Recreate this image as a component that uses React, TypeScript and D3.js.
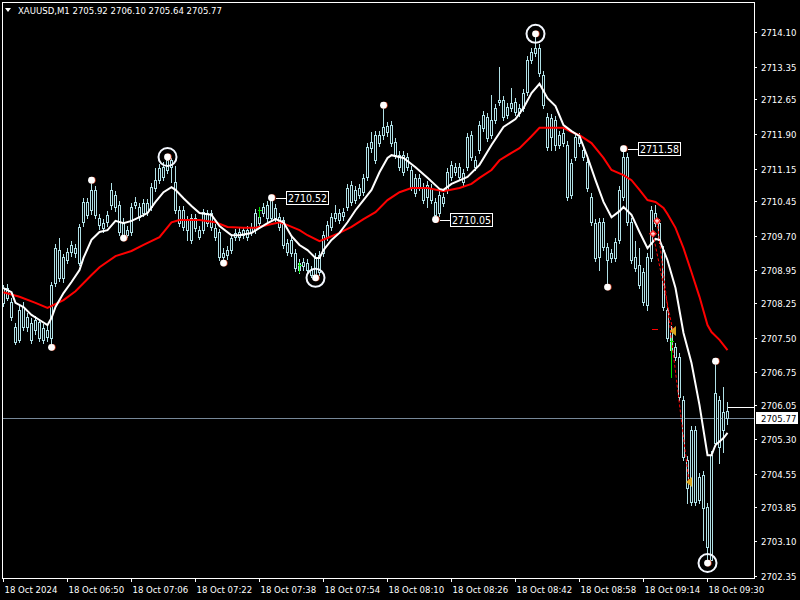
import React from "react";
import * as d3 from "d3";

const symbolTitle = "XAUUSD,M1  2705.92 2706.10 2705.64 2705.77";

const opens = [
  2708.57, 2708.57, 2708.27, 2707.73, 2707.45, 2708.16, 2707.94, 2707.81, 2707.66, 2707.83,
  2707.71, 2707.66, 2707.49, 2708.68, 2709.39, 2708.79, 2709.17, 2709.35, 2709.43, 2709.11,
  2709.99, 2710.43, 2710.25, 2710.69, 2710.08, 2709.97, 2709.99, 2710.36, 2710.58, 2710.36,
  2709.99, 2709.71, 2709.78, 2710.36, 2710.32, 2710.19, 2710.40, 2710.32, 2710.73, 2710.90,
  2711.18, 2711.12, 2711.33, 2710.86, 2710.25, 2709.89, 2710.04, 2709.61, 2710.08, 2709.82,
  2709.82, 2710.19, 2710.19, 2709.87, 2709.78, 2709.33, 2709.28, 2709.39, 2709.67, 2709.78,
  2709.71, 2709.82, 2709.78, 2709.82, 2710.10, 2710.19, 2710.36, 2710.08, 2710.30, 2710.10,
  2710.04, 2709.54, 2709.33, 2709.33, 2709.11, 2709.04, 2709.11, 2708.96, 2708.81, 2709.28,
  2709.33, 2709.67, 2709.89, 2710.08, 2710.19, 2710.12, 2710.32, 2710.79, 2710.47, 2710.58,
  2710.64, 2710.97, 2711.72, 2711.33, 2711.87, 2711.87, 2712.07, 2712.09, 2711.72, 2711.44,
  2711.07, 2711.40, 2711.12, 2710.95, 2710.75, 2710.75, 2710.53, 2710.73, 2710.43, 2710.19,
  2710.40, 2710.69, 2710.97, 2711.18, 2711.18, 2710.86, 2711.18, 2711.87, 2711.33, 2711.55,
  2712.03, 2712.26, 2711.87, 2712.20, 2712.59, 2712.63, 2712.31, 2712.46, 2712.59, 2712.46,
  2712.46, 2712.80, 2713.49, 2713.65, 2713.75, 2713.17, 2712.26, 2711.83, 2712.20, 2711.66,
  2711.70, 2711.66, 2710.58, 2711.40, 2711.83, 2711.55, 2711.29, 2710.53, 2709.97, 2709.24,
  2709.99, 2709.45, 2709.22, 2709.22, 2709.61, 2710.53, 2711.40, 2709.99, 2709.24, 2709.07,
  2708.91, 2708.20, 2709.22, 2710.19, 2709.97, 2709.39, 2708.09, 2707.66, 2707.29, 2707.08,
  2706.15, 2704.85, 2703.95, 2705.50, 2703.99, 2704.53, 2703.84, 2702.69, 2705.22, 2706.15,
  2705.50, 2705.92,
];

const highs = [
  2708.63, 2708.66, 2708.35, 2707.81, 2708.18, 2708.27, 2708.03, 2707.92, 2707.96, 2707.90,
  2707.79, 2707.75, 2708.70, 2709.52, 2709.65, 2709.30, 2709.43, 2709.58, 2709.52, 2709.95,
  2710.51, 2710.51, 2710.90, 2710.77, 2710.17, 2710.06, 2710.23, 2710.84, 2710.66, 2710.45,
  2710.08, 2709.91, 2710.40, 2710.53, 2710.40, 2710.49, 2710.49, 2710.84, 2711.16, 2711.25,
  2711.29, 2711.40, 2711.38, 2711.20, 2710.34, 2710.34, 2710.12, 2710.17, 2710.17, 2709.91,
  2710.28, 2710.25, 2710.25, 2709.95, 2709.84, 2709.43, 2709.48, 2709.74, 2709.84, 2709.87,
  2709.89, 2709.91, 2709.97, 2710.28, 2710.19, 2710.40, 2710.45, 2710.52, 2710.38, 2710.19,
  2710.10, 2709.63, 2709.69, 2709.41, 2709.20, 2709.22, 2709.20, 2709.04, 2709.33, 2709.37,
  2709.80, 2710.02, 2710.19, 2710.36, 2710.28, 2710.30, 2710.82, 2710.88, 2710.77, 2710.82,
  2711.03, 2711.70, 2711.94, 2711.96, 2711.96, 2712.52, 2712.16, 2712.18, 2711.81, 2711.53,
  2711.53, 2711.49, 2711.20, 2711.03, 2711.03, 2710.84, 2710.88, 2710.82, 2710.51, 2710.66,
  2710.62, 2711.16, 2711.31, 2711.27, 2711.27, 2711.14, 2711.92, 2711.96, 2711.42, 2712.18,
  2712.39, 2712.35, 2712.74, 2712.54, 2713.34, 2712.72, 2712.57, 2712.89, 2712.67, 2712.54,
  2712.87, 2713.58, 2713.75, 2714.06, 2713.84, 2713.26, 2712.35, 2712.33, 2712.28, 2711.96,
  2712.00, 2711.74, 2711.36, 2711.92, 2711.92, 2711.64, 2711.38, 2710.62, 2710.06, 2710.08,
  2710.08, 2709.54, 2709.41, 2709.65, 2710.77, 2711.58, 2711.49, 2710.08, 2709.58, 2709.43,
  2709.00, 2709.33, 2710.34, 2710.36, 2710.06, 2709.48, 2708.18, 2707.75, 2707.38, 2707.17,
  2706.24, 2704.94, 2705.59, 2705.59, 2704.57, 2704.62, 2703.93, 2705.05, 2706.99, 2706.24,
  2706.43, 2706.10,
];

const lows = [
  2708.18, 2708.31, 2707.88, 2707.36, 2707.40, 2707.66, 2707.64, 2707.38, 2707.58, 2707.43,
  2707.38, 2707.43, 2707.29, 2708.61, 2708.72, 2708.70, 2709.11, 2709.26, 2709.24, 2709.07,
  2709.91, 2710.08, 2710.17, 2710.08, 2709.84, 2709.78, 2709.91, 2710.28, 2710.23, 2709.71,
  2709.65, 2709.67, 2709.71, 2710.30, 2710.04, 2710.12, 2710.15, 2710.25, 2710.66, 2710.84,
  2710.90, 2711.05, 2710.86, 2710.19, 2709.91, 2709.82, 2709.61, 2709.54, 2709.80, 2709.63,
  2709.76, 2709.91, 2709.82, 2709.61, 2709.17, 2709.11, 2709.20, 2709.33, 2709.61, 2709.61,
  2709.65, 2709.61, 2709.71, 2709.76, 2709.91, 2710.12, 2710.02, 2710.02, 2710.02, 2709.82,
  2709.43, 2709.28, 2709.26, 2708.94, 2708.89, 2708.96, 2708.89, 2708.81, 2708.79, 2708.85,
  2709.26, 2709.61, 2709.82, 2710.02, 2709.97, 2710.04, 2710.25, 2710.36, 2710.40, 2710.51,
  2710.58, 2710.90, 2711.51, 2711.27, 2711.64, 2711.79, 2711.85, 2711.64, 2711.38, 2711.12,
  2711.01, 2711.12, 2710.69, 2710.56, 2710.69, 2710.40, 2710.32, 2710.40, 2710.05, 2710.12,
  2710.34, 2710.62, 2710.90, 2711.01, 2710.90, 2710.79, 2711.12, 2711.33, 2711.12, 2711.49,
  2711.96, 2711.74, 2711.81, 2712.13, 2712.52, 2712.20, 2712.24, 2712.39, 2712.31, 2712.28,
  2712.39, 2712.74, 2713.43, 2713.58, 2713.15, 2712.46, 2711.55, 2711.55, 2711.55, 2711.59,
  2711.64, 2710.47, 2710.51, 2711.33, 2711.64, 2711.33, 2710.66, 2709.93, 2709.15, 2708.96,
  2709.39, 2708.59, 2709.13, 2709.15, 2709.54, 2710.47, 2709.93, 2709.11, 2708.94, 2708.57,
  2708.20, 2708.09, 2709.15, 2709.91, 2709.54, 2708.09, 2707.43, 2707.17, 2707.01, 2706.15,
  2704.85, 2703.93, 2703.88, 2703.88, 2703.93, 2703.13, 2702.63, 2702.69, 2705.16, 2704.79,
  2705.03, 2705.64,
];

const closes = [
  2708.25, 2708.35, 2707.94, 2707.40, 2708.09, 2707.73, 2707.73, 2707.45, 2707.88, 2707.49,
  2707.45, 2707.51, 2708.63, 2709.43, 2708.79, 2709.24, 2709.35, 2709.50, 2709.33, 2709.89,
  2710.43, 2710.15, 2710.69, 2710.15, 2709.93, 2709.87, 2710.15, 2710.69, 2710.32, 2709.78,
  2709.71, 2709.82, 2710.32, 2710.43, 2710.10, 2710.40, 2710.21, 2710.75, 2710.90, 2711.16,
  2710.97, 2711.33, 2711.18, 2710.25, 2709.97, 2710.25, 2709.82, 2710.08, 2709.87, 2709.67,
  2710.21, 2709.97, 2709.89, 2709.67, 2709.24, 2709.24, 2709.39, 2709.65, 2709.76, 2709.67,
  2709.82, 2709.67, 2709.89, 2710.19, 2709.97, 2710.32, 2710.08, 2710.47, 2710.08, 2709.89,
  2709.50, 2709.35, 2709.61, 2709.00, 2708.96, 2709.13, 2708.96, 2708.85, 2709.24, 2708.91,
  2709.71, 2709.93, 2710.10, 2710.19, 2710.04, 2710.21, 2710.73, 2710.43, 2710.69, 2710.73,
  2710.95, 2711.61, 2711.59, 2711.87, 2711.70, 2712.05, 2711.94, 2711.70, 2711.44, 2711.18,
  2711.44, 2711.18, 2710.75, 2710.62, 2710.95, 2710.47, 2710.79, 2710.47, 2710.15, 2710.58,
  2710.53, 2711.07, 2711.23, 2711.07, 2710.97, 2711.05, 2711.83, 2711.40, 2711.18, 2712.09,
  2712.31, 2711.81, 2712.20, 2712.46, 2712.63, 2712.26, 2712.48, 2712.57, 2712.37, 2712.35,
  2712.78, 2713.49, 2713.67, 2713.75, 2713.21, 2712.52, 2711.61, 2712.24, 2711.66, 2711.87,
  2711.92, 2710.53, 2711.27, 2711.83, 2711.70, 2711.40, 2710.73, 2709.99, 2709.22, 2709.99,
  2709.45, 2709.17, 2709.33, 2709.56, 2710.69, 2711.40, 2709.99, 2709.17, 2709.00, 2708.63,
  2708.27, 2709.24, 2710.25, 2709.97, 2709.61, 2708.16, 2707.49, 2707.23, 2707.08, 2706.22,
  2704.92, 2704.25, 2705.50, 2703.95, 2704.49, 2703.82, 2702.97, 2704.96, 2706.30, 2705.14,
  2705.89, 2705.77,
];

// fast moving average (white), read at selected bars
const fastMaBars = [
  0, 2, 3, 5, 7, 9, 11, 12, 13, 15, 17, 19, 20, 22, 24, 26, 28, 30, 32, 34, 36, 38, 40, 42, 43,
  45, 47, 49, 52, 54, 57, 59, 62, 66, 68, 70, 72, 74, 76, 78, 79, 80, 82, 84, 86, 88, 90, 92,
  94, 96, 97, 100, 103, 106, 109, 110, 112, 116, 119, 122, 125, 128, 130, 132, 134, 136, 138,
  140, 142, 144, 146, 148, 150, 152, 154, 155, 157, 159, 161, 163, 164, 166, 168, 170, 172,
  174, 176, 177, 178, 180, 181,
];
const fastMaValues = [
  2708.57, 2708.48, 2708.25, 2708.16, 2707.99, 2707.88, 2707.77, 2707.92, 2708.16, 2708.46,
  2708.70, 2708.96, 2709.22, 2709.61, 2709.78, 2709.82, 2710.02, 2709.97, 2710.02, 2710.10,
  2710.19, 2710.43, 2710.64, 2710.75, 2710.69, 2710.51, 2710.34, 2710.19, 2710.15, 2709.91,
  2709.71, 2709.71, 2709.76, 2709.97, 2710.06, 2709.99, 2709.69, 2709.50, 2709.39, 2709.22,
  2709.22, 2709.39, 2709.61, 2709.76, 2709.99, 2710.25, 2710.47, 2710.69, 2711.07, 2711.38,
  2711.44, 2711.38, 2711.18, 2710.95, 2710.71, 2710.69, 2710.82, 2710.97, 2711.23, 2711.66,
  2712.05, 2712.22, 2712.46, 2712.78, 2712.98, 2712.67, 2712.50, 2712.09, 2711.96, 2711.85,
  2711.40, 2710.90, 2710.43, 2710.10, 2710.23, 2710.32, 2710.15, 2709.78, 2709.43, 2709.63,
  2709.61, 2709.17, 2708.57, 2707.60, 2706.95, 2706.04, 2704.96, 2704.96, 2705.18, 2705.33,
  2705.44,
];

// slow moving average (red)
const slowMaBars = [
  0, 4, 8, 11, 15, 18, 22, 24, 28, 32, 35, 39, 42, 44, 49, 53, 56, 60, 63, 66, 69, 71, 74, 76,
  79, 81, 84, 87, 90, 93, 96, 99, 102, 106, 110, 114, 117, 119, 122, 124, 127, 129, 132, 134,
  140, 142, 144, 147, 150, 152, 155, 157, 159, 161, 163, 165, 166, 168, 170, 172, 174, 176,
  177, 179, 181,
];
const slowMaValues = [
  2708.48, 2708.38, 2708.25, 2708.14, 2708.31, 2708.50, 2708.85, 2709.02, 2709.26, 2709.37,
  2709.50, 2709.67, 2709.99, 2710.04, 2710.04, 2709.99, 2709.89, 2709.87, 2709.87, 2709.93,
  2709.99, 2709.93, 2709.82, 2709.71, 2709.58, 2709.65, 2709.76, 2709.89, 2710.06, 2710.21,
  2710.47, 2710.64, 2710.73, 2710.73, 2710.66, 2710.73, 2710.82, 2710.95, 2711.12, 2711.33,
  2711.49, 2711.59, 2711.85, 2712.03, 2712.03, 2711.94, 2711.87, 2711.70, 2711.38, 2711.12,
  2711.01, 2710.90, 2710.69, 2710.47, 2710.43, 2710.30, 2710.17, 2709.87, 2709.43, 2708.91,
  2708.38, 2707.77, 2707.62, 2707.45, 2707.23,
];

// swing points: "H" sits on the bar high, "L" on the bar low
const pivotBars = [12, 22, 30, 41, 55, 67, 78, 95, 108, 133, 151, 155, 176, 178];
const pivotSides = ["L", "H", "L", "H", "L", "H", "L", "H", "L", "H", "L", "H", "L", "H"];
const circledBars = [41, 78, 133, 176];
const labeledBars = [67, 108, 155];

const priceTicks = [
  "2714.10", "2713.35", "2712.65", "2711.90", "2711.15", "2710.45", "2709.70", "2708.95",
  "2708.25", "2707.50", "2706.75", "2706.05", "2705.30", "2704.55", "2703.85", "2703.10",
  "2702.35",
];
const timeTickBars = [0, 16, 32, 48, 64, 80, 96, 112, 128, 144, 160, 176];
const timeTickLabels = [
  "18 Oct 2024", "18 Oct 06:50", "18 Oct 07:06", "18 Oct 07:22", "18 Oct 07:38",
  "18 Oct 07:54", "18 Oct 08:10", "18 Oct 08:26", "18 Oct 08:42", "18 Oct 08:58",
  "18 Oct 09:14", "18 Oct 09:30",
];

// trade history: entry / exit pairs
const tradeOpenBars = [162.5, 163.5];
const tradeOpenPrices = [2709.74, 2710.02];
const tradeCloseBars = [167.5, 171.5];
const tradeClosePrices = [2707.64, 2704.38];

const greenMarkBars = [64, 74, 167];
const greenMarkTops = [2710.32, 2709.13, 2707.49];
const greenMarkBottoms = [2710.08, 2708.89, 2706.63];

const lastPrice = 2705.77;
const askPrice = 2706.0;

const W = 800;
const H = 600;
const AXIS_X = 754;
const BOTTOM = 578;
const FONT = "'DejaVu Sans Condensed', 'Liberation Sans', Arial, sans-serif";
const CANDLE = "#b0e0e6";

export default function App() {
  const x = d3.scaleLinear().domain([0, 181]).range([3, 727]);
  const y = d3.scaleLinear().domain([2702.35, 2714.1]).range([576, 32]);

  const fastLine = d3
    .line<number>()
    .x((b) => x(b) + 0.5)
    .y((_, i) => y(fastMaValues[i]));
  const slowLine = d3
    .line<number>()
    .x((b) => x(b) + 0.5)
    .y((_, i) => y(slowMaValues[i]));

  const pivotPrice = (b: number, side: string) => (side === "H" ? highs[b] : lows[b]);

  return (
    <div style={{ position: "absolute", left: 0, top: 0, width: W, height: H, background: "#000" }}>
      <svg width={W} height={H} style={{ display: "block", fontFamily: FONT }}>
        <rect width={W} height={H} fill="#000" />

        {/* current price line */}
        <line x1={2} x2={AXIS_X} y1={Math.round(y(lastPrice)) + 0.5} y2={Math.round(y(lastPrice)) + 0.5} stroke="#778899" />

        {/* candles */}
        <g shapeRendering="crispEdges">
          {opens.map((o, i) => {
            const cx = Math.round(x(i));
            const c = closes[i];
            const top = Math.round(y(Math.max(o, c)));
            const bot = Math.round(y(Math.min(o, c)));
            return (
              <g key={i}>
                <line x1={cx + 0.5} x2={cx + 0.5} y1={Math.round(y(highs[i]))} y2={Math.round(y(lows[i])) + 1} stroke={CANDLE} />
                {bot - top >= 1 ? (
                  <rect x={cx - 0.5} y={top + 0.5} width={2} height={bot - top} fill="#000" stroke={CANDLE} />
                ) : (
                  <line x1={cx - 1} x2={cx + 2} y1={top + 0.5} y2={top + 0.5} stroke={CANDLE} />
                )}
              </g>
            );
          })}
        </g>

        {/* moving averages */}
        <path d={slowLine(slowMaBars) || ""} fill="none" stroke="#ff0000" strokeWidth={2} />
        <path d={fastLine(fastMaBars) || ""} fill="none" stroke="#ffffff" strokeWidth={2} />

        {/* trades */}
        {tradeOpenBars.map((b, i) => (
          <line
            key={"t" + i}
            x1={x(b)}
            y1={y(tradeOpenPrices[i])}
            x2={x(tradeCloseBars[i])}
            y2={y(tradeClosePrices[i])}
            stroke="#ff0000"
            strokeDasharray="3,2"
          />
        ))}
        {tradeOpenBars.map((b, i) => {
          const px = x(b);
          const py = y(tradeOpenPrices[i]);
          return (
            <g key={"ti" + i}>
              <path d={`M${px - 4},${py} L${px},${py - 4} L${px + 4},${py} L${px},${py + 4} Z`} fill="#ff2020" />
              <path d={`M${px - 2},${py} L${px + 2},${py} M${px},${py - 2} L${px},${py + 2}`} stroke="#fff" strokeWidth={1} />
            </g>
          );
        })}
        {tradeCloseBars.map((b, i) => {
          const px = x(b);
          const py = y(tradeClosePrices[i]);
          return <path key={"tc" + i} d={`M${px - 3},${py} L${px + 3},${py - 5} L${px + 3},${py + 5} Z`} fill="#daa520" />;
        })}
        <line x1={652} x2={658} y1={Math.round(y(2707.68)) + 0.5} y2={Math.round(y(2707.68)) + 0.5} stroke="#ff0000" />

        {greenMarkBars.map((b, i) => {
          const gx = Math.round(x(b)) + 0.5;
          const t = y(greenMarkTops[i]);
          return (
            <g key={"g" + i} stroke="#00e000" shapeRendering="crispEdges">
              <line x1={gx} x2={gx} y1={t} y2={y(greenMarkBottoms[i])} />
              <line x1={gx - 2} x2={gx + 2} y1={t + 3.5} y2={t + 3.5} />
            </g>
          );
        })}

        {/* pivot dots */}
        {pivotBars.map((b, i) => {
          const px = x(b) + 0.5;
          const py = y(pivotPrice(b, pivotSides[i]));
          return (
            <g key={"p" + i}>
              <circle cx={px + 0.8} cy={py} r={3.4} fill="#d04020" />
              <circle cx={px} cy={py} r={3.4} fill="#fff" />
            </g>
          );
        })}
        {circledBars.map((b) => {
          const i = pivotBars.indexOf(b);
          const py = y(pivotPrice(b, pivotSides[i]));
          return <circle key={"c" + b} cx={x(b) + 0.5} cy={py} r={9} fill="none" stroke="#f4f8ff" strokeWidth={2} />;
        })}
        {labeledBars.map((b) => {
          const i = pivotBars.indexOf(b);
          const v = pivotPrice(b, pivotSides[i]);
          const px = x(b) + 0.5;
          const py = Math.round(y(v));
          return (
            <g key={"l" + b} shapeRendering="crispEdges">
              <line x1={px + 4} x2={px + 15} y1={py + 0.5} y2={py + 0.5} stroke="#fff" />
              <rect x={px + 15} y={py - 6.5} width={42} height={13} fill="#000" stroke="#fff" />
              <text x={px + 36} y={py + 4} fill="#fff" fontSize={10.5} textAnchor="middle">
                {v.toFixed(2)}
              </text>
            </g>
          );
        })}

        {/* ask marker */}
        <line x1={728} x2={AXIS_X} y1={Math.round(y(askPrice)) + 0.5} y2={Math.round(y(askPrice)) + 0.5} stroke="#fff" />

        {/* frame */}
        <g stroke="#fff" shapeRendering="crispEdges">
          <line x1={2.5} x2={2.5} y1={2} y2={BOTTOM + 1} />
          <line x1={2} x2={AXIS_X + 1} y1={2.5} y2={2.5} />
          <line x1={AXIS_X + 0.5} x2={AXIS_X + 0.5} y1={2} y2={BOTTOM + 1} />
          <line x1={2} x2={AXIS_X + 1} y1={BOTTOM + 0.5} y2={BOTTOM + 0.5} />
        </g>

        {/* price axis */}
        {priceTicks.map((t) => {
          const ty = Math.round(y(parseFloat(t))) + 0.5;
          return (
            <g key={t}>
              <line x1={AXIS_X} x2={AXIS_X + 3} y1={ty} y2={ty} stroke="#fff" shapeRendering="crispEdges" />
              <text x={761} y={ty + 3.5} fill="#fff" fontSize={9.5}>
                {t}
              </text>
            </g>
          );
        })}
        <rect x={756} y={Math.round(y(lastPrice)) - 6} width={42} height={12} fill="#fff" />
        <text x={761} y={Math.round(y(lastPrice)) + 4} fill="#000" fontSize={9.5}>
          {lastPrice.toFixed(2)}
        </text>

        {/* time axis */}
        {timeTickBars.map((b, i) => {
          const tx = Math.round(x(b)) + 0.5;
          return (
            <g key={"tt" + i}>
              <line x1={tx} x2={tx} y1={BOTTOM} y2={BOTTOM + 4} stroke="#fff" shapeRendering="crispEdges" />
              <text x={tx + 1} y={593} fill="#fff" fontSize={9.5}>
                {timeTickLabels[i]}
              </text>
            </g>
          );
        })}

        {/* title */}
        <path d="M5,8 L11,8 L8,12 Z" fill="#fff" />
        <text x={18} y={14} fill="#fff" fontSize={9.5}>
          {symbolTitle}
        </text>
      </svg>
    </div>
  );
}
